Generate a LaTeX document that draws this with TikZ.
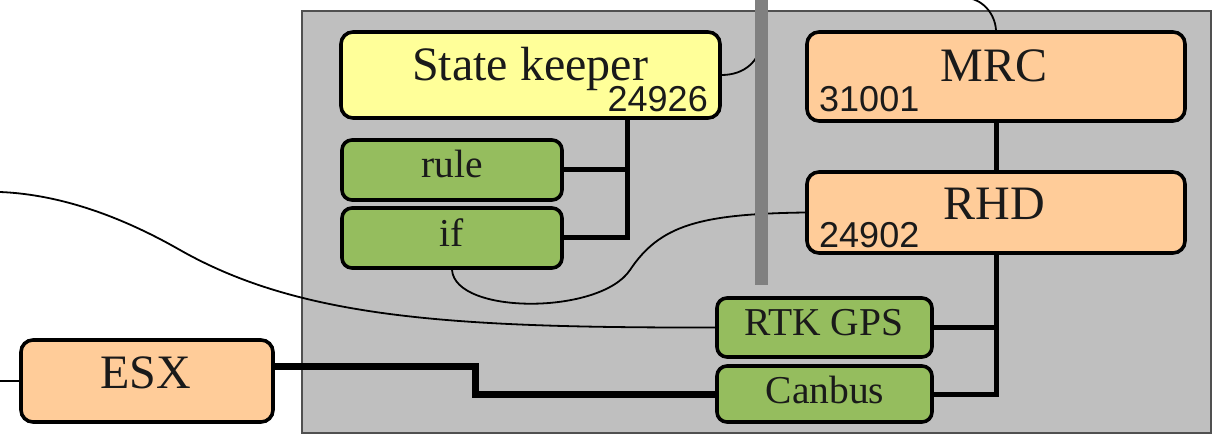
\documentclass[tikz,border=0pt]{standalone}
\usepackage{fontspec}
\setmainfont{Liberation Serif}
\newfontfamily\numfont{Liberation Sans}
\definecolor{panelgrey}{HTML}{BFBFBF}
\definecolor{panelline}{HTML}{505050}
\definecolor{barGrey}{HTML}{808080}
\definecolor{keeperYellow}{HTML}{FFFF99}
\definecolor{unitOrange}{HTML}{FFCC99}
\definecolor{ioGreen}{HTML}{95BD5E}
\definecolor{ink}{HTML}{1A1A1A}
\tikzset{
  box/.style={draw=black, line width=3.6pt, rounded corners=12pt, inner sep=0pt},
  keeper/.style={box, fill=keeperYellow},
  unit/.style={box, fill=unitOrange},
  io/.style={box, fill=ioGreen, rounded corners=10pt},
  bigtext/.style={anchor=base, inner sep=0pt, text=ink, font=\fontsize{48}{50}\selectfont},
  midtext/.style={anchor=base, inner sep=0pt, text=ink, font=\fontsize{39.5}{41}\selectfont},
  numtext/.style={inner sep=0pt, text=ink, font=\numfont\fontsize{36}{38}\selectfont},
  conn/.style={draw=black, line width=5pt},
  trunk/.style={draw=black, line width=7pt},
  wire/.style={draw=black, line width=1.8pt},
}
\begin{document}
\begin{tikzpicture}[x=1pt, y=-1pt]
\useasboundingbox (0,0) rectangle (1229,438);
\clip (0,0) rectangle (1229,438);

% enclosing panel
\draw[fill=panelgrey, draw=panelline, line width=1.5pt] (302,11) rectangle (1211,433);

% free ends and bends
\coordinate (leftin) at (0,192);
\coordinate (esxin) at (0,381);
\coordinate (skjoin) at (627,0);
\coordinate (esxbend) at (475,0);
\coordinate (bartop) at (761.5,-5);
\coordinate (barbot) at (761.5,285);

% boxes
\path
  node[keeper, minimum width=379pt, minimum height=86pt] (sk) at (530.5,75) {}
  node[io, minimum width=220pt, minimum height=60pt] (rule) at (452,170) {}
  node[io, minimum width=220pt, minimum height=60pt] (if) at (452,238) {}
  node[unit, minimum width=378pt, minimum height=89pt] (mrc) at (996,76.5) {}
  node[unit, minimum width=378pt, minimum height=81pt] (rhd) at (996,212.5) {}
  node[io, minimum width=215pt, minimum height=59pt] (rtk) at (824.5,327.5) {}
  node[io, minimum width=215pt, minimum height=56pt] (canbus) at (824.5,394) {}
  node[unit, minimum width=252pt, minimum height=82pt] (esx) at (147,381) {};

% thin wires
\draw[wire] (rtk.west) .. controls (450,328) and (300,318) .. (180,250)
            .. controls (110,210) and (50,194) .. (leftin);
\draw[wire] (rhd.west) .. controls (700,214) and (660,225) .. (630,270)
            .. controls (600,315) and (455,315) .. (if.south);
\draw[wire] (sk.east) .. controls (745,75) and (761,60) .. (761,40) -- (761,-10)
            -- (965,-10) -- (965,-2) .. controls (981.5,-2) and (995,13) .. (mrc.north);
\draw[wire] (esxin) -- (esx.west);

% vertical grey bar
\draw[barGrey, line width=13pt] (bartop) -- (barbot);

% bus connectors
\draw[conn] (sk.south -| skjoin) |- (if.east);
\draw[conn] (rule.east) -- (rule.east -| skjoin);
\draw[conn] (mrc.south) -- (rhd.north);
\draw[conn] (rhd.south) |- (canbus.east);
\draw[conn] (rtk.east) -- (rtk.east -| rhd.south);
\draw[trunk] ([yshift=15pt]esx.east) -| (esxbend |- canbus.west) -- (canbus.west);

% labels
\node[bigtext] (sk-t) at (530,81) {State keeper};
\node[numtext, anchor=base east] (sk-n) at (708,112) {24926};
\node[midtext] (rule-t) at (452,178) {rule};
\node[midtext] (if-t) at (452,247) {if};
\node[bigtext] (mrc-t) at (994,82) {MRC};
\node[numtext, anchor=base west] (mrc-n) at (819,112) {31001};
\node[bigtext] (rhd-t) at (994,220) {RHD};
\node[numtext, anchor=base west] (rhd-n) at (819,248) {24902};
\node[midtext] (rtk-t) at (824,335) {RTK GPS};
\node[midtext] (canbus-t) at (825,403) {Canbus};
\node[bigtext] (esx-t) at (146,388) {ESX};
\end{tikzpicture}
\end{document}
